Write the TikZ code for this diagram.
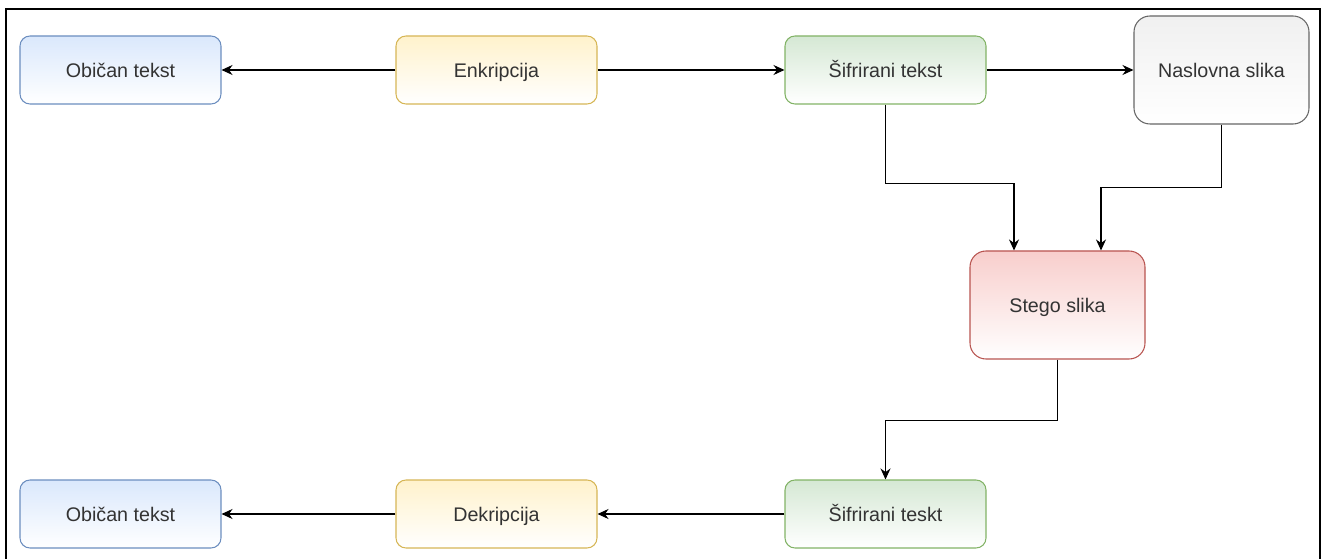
\documentclass[tikz,border=0pt]{standalone}
\usepackage{fontspec}
\setmainfont{Liberation Sans}
\usepackage{tikz}
\usetikzlibrary{positioning}
\usetikzlibrary{arrows.meta}
\usepackage{xcolor}

\definecolor{blueFill}{HTML}{DAE8FC}
\definecolor{blueLine}{HTML}{6C8EBF}
\definecolor{yellowFill}{HTML}{FFF2CC}
\definecolor{yellowLine}{HTML}{D6B656}
\definecolor{greenFill}{HTML}{D5E8D4}
\definecolor{greenLine}{HTML}{82B366}
\definecolor{redFill}{HTML}{F8CECC}
\definecolor{redLine}{HTML}{B85450}
\definecolor{grayFill}{HTML}{F0F0F0}
\definecolor{grayLine}{HTML}{666666}
\definecolor{txt}{HTML}{333333}

\tikzset{
  box/.style={rounded corners=0.2cm, line width=0.6pt, minimum width=4.02cm, minimum height=1.36cm,
    text=txt, font=\fontsize{11.2}{13}\selectfont, text height=9pt, text depth=1pt, bottom color=white},
  bigbox/.style={box, rounded corners=0.32cm, minimum width=3.5cm, minimum height=2.16cm},
  plainbox/.style={box, draw=blueLine, top color=blueFill},
  cryptbox/.style={box, draw=yellowLine, top color=yellowFill},
  cipherbox/.style={box, draw=greenLine, top color=greenFill},
  arr/.style={-{Stealth[length=2.2mm,width=2mm]}, line width=0.6pt, black}
}

\begin{document}
\begin{tikzpicture}

\useasboundingbox (0,0) rectangle (26.44,-11.18);

% frame
\draw[black, line width=0.8pt] (0.12,-11.18)--(0.12,-0.18)--(26.40,-0.18)--(26.40,-11.18);

% top row
\node[plainbox] (plainA) at (2.41,-1.40) {Običan tekst};
\node[cryptbox] (enc) at (9.93,-1.40) {Enkripcija};
\node[cipherbox] (cipherA) at (17.71,-1.40) {Šifrirani tekst};
\node[bigbox, draw=grayLine, top color=grayFill] (cover) at (24.43,-1.40) {Naslovna slika};

% middle
\node[bigbox, draw=redLine, top color=redFill] (stego) at (21.15,-6.10) {Stego slika};

% bottom row
\node[cipherbox] (cipherB) at (17.71,-10.28) {Šifrirani teskt};
\node[cryptbox] (dec) at (9.93,-10.28) {Dekripcija};
\node[plainbox] (plainB) at (2.41,-10.28) {Običan tekst};

% arrows
\draw[arr] (enc) -- (plainA);
\draw[arr] (enc) -- (cipherA);
\draw[arr] (cipherA) -- (cover);

\draw[arr] (cipherA.south) -- ++(0,-1.58) -| ([xshift=-0.87cm]stego.north);
\draw[arr] (cover.south) -- ++(0,-1.26) -| ([xshift=0.87cm]stego.north);
\draw[arr] (stego.south) -- ++(0,-1.22) -| (cipherB.north);

\draw[arr] (cipherB) -- (dec);
\draw[arr] (dec) -- (plainB);

\end{tikzpicture}
\end{document}
